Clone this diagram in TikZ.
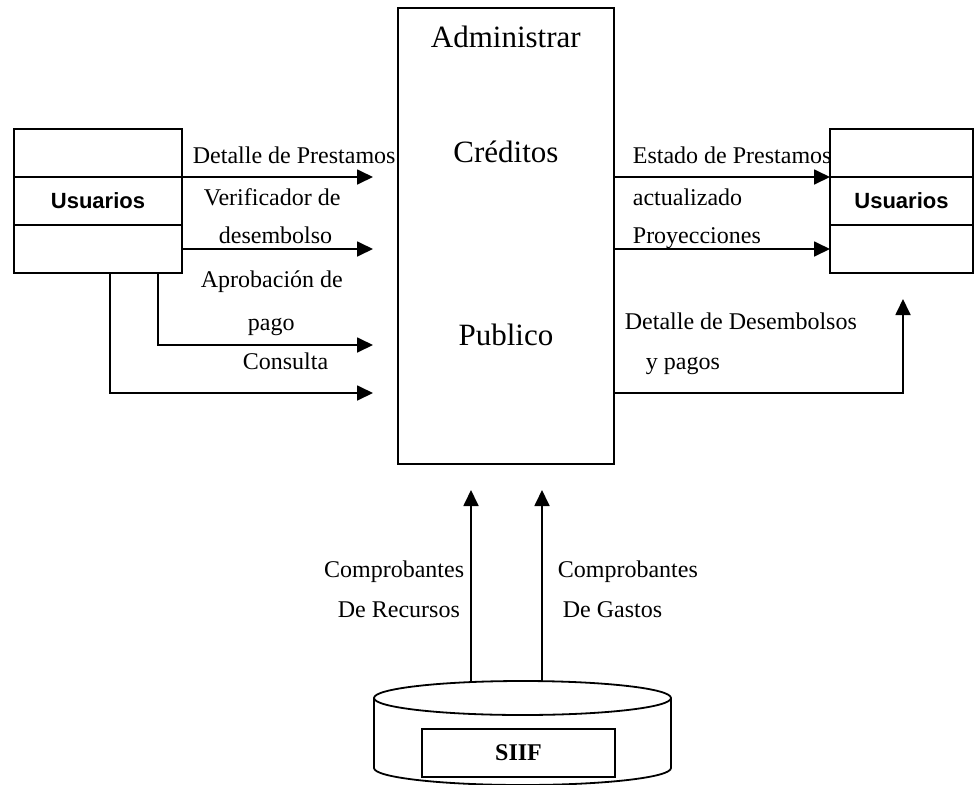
\documentclass[tikz,border=0pt]{standalone}
\usepackage{fontspec}
\setmainfont{Liberation Serif}
\newfontfamily\usrfont{Liberation Sans}
\usetikzlibrary{arrows.meta,positioning}

\begin{document}
\begin{tikzpicture}
[
	x=1pt, y=-1pt,
	line width=1.8pt,
	flow/.style={-{Triangle[length=16pt,width=15pt]}},
	lbl/.style={font=\fontsize{24}{28}\selectfont,inner sep=0pt},
	ptitle/.style={font=\fontsize{31}{36}\selectfont,inner sep=0pt},
	usrbox/.style={draw,rectangle,minimum width=168pt,minimum height=48pt,inner sep=0pt,outer sep=0pt,
		font=\usrfont\bfseries\fontsize{22}{24}\selectfont},
	usrboxR/.style={usrbox,minimum width=143pt}
]

	\useasboundingbox (0,0) rectangle (978,785);

	% process
	\node[draw,minimum width=216pt,minimum height=456pt,inner sep=0pt,outer sep=0pt] (proc) at (506,236) {};
	\node[ptitle,anchor=base west] (adm) at (430,47) {Administrar};
	\node[ptitle,anchor=base] (cred) at (506,162) {Créditos};
	\node[ptitle,anchor=base] (pub) at (506,345) {Publico};

	% users (left)
	\node[usrbox] (usrL) at (98,201) {Usuarios};
	\node[usrbox,above=0pt of usrL] (usrLt) {};
	\node[usrbox,below=0pt of usrL] (usrLb) {};

	% users (right)
	\node[usrboxR] (usrR) at (901.5,201) {Usuarios};
	\node[usrboxR,above=0pt of usrR] (usrRt) {};
	\node[usrboxR,below=0pt of usrR] (usrRb) {};

	% database
	\coordinate (db) at (522.5,698);
	\draw (db) ellipse [x radius=148.5pt,y radius=17pt];
	\draw (374,698) -- (374,768) arc [start angle=180,end angle=360,x radius=148.5pt,y radius=17pt] -- (671,698);
	\node[draw,minimum width=193pt,minimum height=48pt,inner sep=0pt,
		font=\bfseries\fontsize{24}{28}\selectfont] (siif) at (518.5,753) {SIIF};

	% inputs
	\coordinate (pago) at (158,345);
	\coordinate (cons) at (110,393);
	\draw[flow,shorten >=25pt] (usrL.north east) -- (usrL.north east -| proc.west);
	\draw[flow,shorten >=25pt] (usrLb.east) -- (usrLb.east -| proc.west);
	\draw[flow,shorten >=25pt] (usrLb.south -| pago) |- (pago -| proc.west);
	\draw[flow,shorten >=25pt] (usrLb.south -| cons) |- (cons -| proc.west);

	\node[lbl,anchor=base west] (l1) at (192,163) {Detalle de Prestamos};
	\node[lbl,anchor=base west] (l2) at (203,205) {Verificador de};
	\node[lbl,anchor=base west] (l3) at (218,243) {desembolso};
	\node[lbl,anchor=base west] (l4) at (200,287) {Aprobación de};
	\node[lbl,anchor=base west] (l5) at (247,330) {pago};
	\node[lbl,anchor=base west] (l6) at (242,369) {Consulta};

	% outputs
	\coordinate (desem) at (903,393);
	\draw[flow] (usrR.north west -| proc.east) -- (usrR.north west);
	\draw[flow] (usrRb.west -| proc.east) -- (usrRb.west);
	\draw[flow,shorten >=26pt] (desem -| proc.east) -| (usrRb.south -| desem);

	\node[lbl,anchor=base west] (r1) at (632,163) {Estado de Prestamos};
	\node[lbl,anchor=base west] (r2) at (632,205) {actualizado};
	\node[lbl,anchor=base west] (r3) at (632,243) {Proyecciones};
	\node[lbl,anchor=base west] (r4) at (624,329) {Detalle de Desembolsos};
	\node[lbl,anchor=base west] (r5) at (645,369) {y pagos};

	% vouchers
	\coordinate (rec) at (471,681);
	\coordinate (gas) at (542,681);
	\draw[flow,shorten >=26pt] (rec) -- (rec |- proc.south);
	\draw[flow,shorten >=26pt] (gas) -- (gas |- proc.south);

	\node[lbl,anchor=base east] (b1) at (465,577) {Comprobantes};
	\node[lbl,anchor=base west] (b2) at (337,617) {De Recursos};
	\node[lbl,anchor=base west] (b3) at (557,577) {Comprobantes};
	\node[lbl,anchor=base west] (b4) at (562,617) {De Gastos};

\end{tikzpicture}
\end{document}
